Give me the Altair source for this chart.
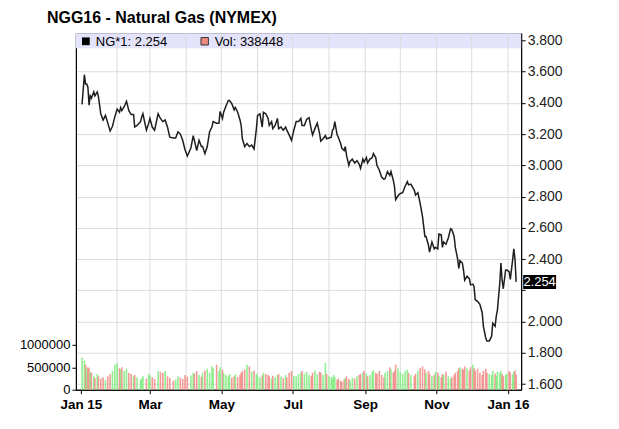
import altair as alt
import pandas as pd

# ---- data ----
day_offsets = [1, 3, 4, 5, 6, 7, 8, 9, 11, 12, 14, 15, 17, 19, 21, 23, 25, 27, 29, 31,
               33, 34, 35, 37, 39, 41, 43, 45, 46, 48, 51, 52, 53, 56, 58, 59, 61, 63, 66, 68,
               70, 72, 74, 76, 79, 81, 83, 85, 87, 89, 91, 94, 96, 97, 99, 101, 103, 104, 106, 108,
               110, 112, 113, 116, 118, 119, 121, 122, 124, 126, 127, 129, 131, 132, 134, 136, 137, 138, 140, 142,
               144, 146, 148, 150, 151, 153, 155, 156, 158, 160, 161, 163, 164, 166, 168, 169, 171, 173, 175, 176,
               178, 180, 182, 184, 186, 188, 189, 191, 193, 195, 197, 198, 200, 202, 204, 205, 207, 209, 210, 212,
               214, 215, 216, 217, 219, 220, 222, 223, 225, 226, 227, 229, 230, 232, 234, 236, 238, 239, 241, 242,
               244, 245, 247, 249, 250, 252, 253, 255, 257, 259, 260, 262, 264, 265, 267, 268, 269, 271, 273, 275,
               277, 279, 280, 282, 285, 286, 288, 290, 292, 294, 295, 297, 298, 300, 302, 303, 305, 306, 308, 309,
               310, 312, 314, 316, 317, 319, 320, 322, 323, 324, 326, 327, 328, 330, 332, 333, 335, 336, 337, 339,
               341, 343, 344, 346, 347, 349, 351, 352, 354, 355, 356, 358, 359, 360, 361, 363, 364, 366, 367, 369,
               370, 371, 372]

prices = [3.39, 3.58, 3.52, 3.52, 3.50, 3.385, 3.445, 3.43, 3.47, 3.445, 3.47, 3.44, 3.33, 3.29, 3.32, 3.27, 3.22, 3.25, 3.31, 3.36,
          3.34, 3.37, 3.35, 3.375, 3.41, 3.35, 3.325, 3.325, 3.245, 3.255, 3.28, 3.31, 3.33, 3.225, 3.27, 3.30, 3.245, 3.225, 3.33, 3.30,
          3.28, 3.29, 3.245, 3.18, 3.175, 3.175, 3.215, 3.20, 3.16, 3.10, 3.06, 3.11, 3.19, 3.16, 3.095, 3.16, 3.12, 3.12, 3.075, 3.12,
          3.215, 3.245, 3.28, 3.27, 3.27, 3.345, 3.30, 3.34, 3.38, 3.415, 3.415, 3.395, 3.355, 3.37, 3.34, 3.29, 3.255, 3.17, 3.12, 3.14,
          3.12, 3.13, 3.105, 3.235, 3.32, 3.33, 3.245, 3.34, 3.33, 3.30, 3.255, 3.28, 3.235, 3.255, 3.30, 3.235, 3.245, 3.225, 3.245, 3.225,
          3.195, 3.16, 3.225, 3.28, 3.28, 3.30, 3.255, 3.255, 3.295, 3.305, 3.225, 3.195, 3.235, 3.27, 3.205, 3.155, 3.17, 3.19, 3.17, 3.175,
          3.18, 3.225, 3.235, 3.28, 3.195, 3.18, 3.14, 3.11, 3.095, 3.12, 3.065, 3.00, 3.025, 3.04, 3.015, 3.03, 3.005, 2.98, 3.04, 3.02,
          3.05, 3.015, 3.04, 3.05, 3.075, 3.05, 3.00, 2.97, 2.925, 2.91, 2.915, 2.96, 2.935, 2.96, 2.905, 2.865, 2.78, 2.805, 2.82, 2.825,
          2.865, 2.895, 2.875, 2.88, 2.84, 2.81, 2.825, 2.755, 2.67, 2.545, 2.545, 2.49, 2.445, 2.51, 2.465, 2.475, 2.465, 2.56, 2.555, 2.475,
          2.51, 2.495, 2.535, 2.595, 2.59, 2.545, 2.475, 2.40, 2.34, 2.39, 2.375, 2.33, 2.265, 2.29, 2.275, 2.235, 2.24, 2.225, 2.14, 2.13,
          2.11, 2.055, 1.97, 1.895, 1.875, 1.875, 1.905, 1.99, 1.97, 2.035, 2.075, 2.245, 2.375, 2.265, 2.21, 2.33, 2.33, 2.32, 2.27, 2.395,
          2.465, 2.40, 2.254]

volumes_k = [720, 650, 560, 470, 500, 480, 400, 380,
             300, 260, 350, 300, 250, 280, 220, 300, 350, 420, 560, 600,
             480, 450, 500, 420, 470, 380, 350, 300, 330, 280,
             220, 260, 300, 250, 350, 320, 280, 240, 420, 400,
             380, 420, 300, 260, 200, 230, 300, 270, 240, 330, 290,
             320, 380, 360, 420, 330, 290, 380, 430, 470, 380, 520,
             480, 560, 420, 500, 450, 380, 330, 300, 350, 270, 300, 350, 280,
             330, 380, 420, 450, 560, 520, 400, 430, 360, 300, 280, 320, 380, 350, 330,
             300, 260, 310, 280, 330, 350, 290, 260, 330, 280, 380, 420, 310, 300, 350,
             380, 420, 360, 400, 330, 310, 380, 430, 350, 400, 380, 330, 600, 350, 300,
             280, 250, 330, 280, 220, 250, 200, 180, 230, 260, 300, 240, 200, 270, 250,
             300, 330, 350, 380, 420, 360, 300, 330, 400, 430, 380, 350, 420, 330, 280,
             380, 420, 500, 450, 380, 420, 560, 480, 400, 350, 420, 450, 380, 330, 300,
             350, 420, 480, 520, 450, 380, 420, 360, 300, 330, 400, 380, 310, 280, 350,
             330, 400, 300, 250, 280, 330, 380, 420, 480, 500, 470, 450, 520, 480, 430,
             500, 560, 480, 420, 470, 380, 330, 420, 470, 380, 350, 330, 420, 360, 310,
             400, 380, 420, 350, 300, 330, 360, 420, 380, 340, 400, 430, 338.448]

title_text = "NGG16 - Natural Gas (NYMEX)"
legend_price = "NG*1: 2.254"
legend_vol = "Vol: 338448"
last_price = 2.254
price_ticks = [1.6, 1.8, 2.0, 2.2, 2.4, 2.6, 2.8, 3.0, 3.2, 3.4, 3.6, 3.8]
vol_ticks = [0, 500000, 1000000]
label_months = ["2015-01-01", "2015-03-01", "2015-05-01", "2015-07-01",
                "2015-09-01", "2015-11-01", "2016-01-01"]
grid_months = ["2015-02-01", "2015-03-01", "2015-04-01", "2015-05-01", "2015-06-01",
               "2015-07-01", "2015-08-01", "2015-09-01", "2015-10-01", "2015-11-01",
               "2015-12-01", "2016-01-01"]

# ---- tables ----
base = pd.Timestamp("2015-01-01")
dates = base + pd.to_timedelta(day_offsets, unit="D")
direction = ["up"] + ["up" if prices[i] >= prices[i - 1] else "down" for i in range(1, len(prices))]
df = pd.DataFrame({
    "date": dates,
    "price": prices,
    "volume": [v * 1000 for v in volumes_k],
    "dir": direction,
})
grid_df = pd.DataFrame({"date": pd.to_datetime(grid_months)})
last_df = pd.DataFrame({"price": [last_price], "label": [f"{last_price:.3f}"]})

W, H = 446, 357
FONT = "Liberation Sans"
x_dom = [pd.Timestamp("2015-01-01").isoformat(), pd.Timestamp("2016-01-08").isoformat()]
x_scale = alt.Scale(domain=x_dom, nice=False)
p_scale = alt.Scale(domain=[1.564, 3.845], nice=False, zero=False)
v_scale = alt.Scale(domain=[0, 7970000], nice=False)

x_axis = alt.Axis(
    values=[alt.DateTime(year=int(s[:4]), month=int(s[5:7]), date=1) for s in label_months],
    labelExpr="month(datum.value) == 0 ? 'Jan ' + timeFormat(datum.value, '%y') : timeFormat(datum.value, '%b')",
    grid=False, domainColor="black", tickColor="black", tickSize=4,
    labelFont=FONT, labelFontSize=13.5, labelFontWeight="bold", labelColor="black",
    labelPadding=4, title=None, labelFlush=False,
)

band = alt.Chart(last_df).mark_rect(color="#E3E3FB").encode(
    x=alt.value(0), x2=alt.value(W), y=alt.value(0), y2=alt.value(15)
)

vgrid = alt.Chart(grid_df).mark_rule(color="#DCDCDC", strokeWidth=1).encode(
    x=alt.X("date:T", scale=x_scale, axis=x_axis)
)

bars = alt.Chart(df).mark_bar(size=1.6, opacity=0.85).encode(
    x=alt.X("date:T", scale=x_scale, axis=x_axis),
    y=alt.Y("volume:Q", scale=v_scale,
            axis=alt.Axis(orient="left", values=vol_ticks, format="d", grid=False,
                          domainColor="black", tickColor="black", tickSize=4,
                          labelFont=FONT, labelFontSize=13, labelColor="black",
                          labelPadding=2, title=None)),
    color=alt.Color("dir:N", scale=alt.Scale(domain=["up", "down"], range=["#7EEB7E", "#F08882"]),
                    legend=None),
)

line = alt.Chart(df).mark_line(color="#1E1E1E", strokeWidth=1.5).encode(
    x=alt.X("date:T", scale=x_scale, axis=x_axis),
    y=alt.Y("price:Q", scale=p_scale,
            axis=alt.Axis(orient="right", values=price_ticks, grid=True,
                          labelExpr="datum.value == 2.2 ? '' : format(datum.value, '.3f')",
                          gridColor="#DCDCDC", domainColor="black", tickColor="black", tickSize=4,
                          labelFont=FONT, labelFontSize=14, labelColor="#222222",
                          labelPadding=2, title=None)),
)

last_box = alt.Chart(last_df).mark_tick(orient="horizontal", color="black", size=33,
                                        thickness=14, opacity=1).encode(
    x=alt.value(W + 18.5),
    y=alt.Y("price:Q", scale=p_scale, axis=None),
)
last_txt = alt.Chart(last_df).mark_text(color="white", font=FONT, fontSize=13,
                                        align="center", baseline="middle").encode(
    x=alt.value(W + 18.5),
    y=alt.Y("price:Q", scale=p_scale, axis=None),
    text="label:N",
)

title = alt.Chart(last_df).mark_text(text=title_text, font=FONT, fontSize=16, fontWeight="bold",
                                     align="left", baseline="middle", color="black").encode(
    x=alt.value(-29), y=alt.value(-15)
)
sq_price = alt.Chart(last_df).mark_square(size=60, color="black", filled=True, opacity=1).encode(
    x=alt.value(10), y=alt.value(8)
)
txt_price = alt.Chart(last_df).mark_text(text=legend_price, font=FONT, fontSize=13,
                                         align="left", baseline="middle", color="black").encode(
    x=alt.value(20), y=alt.value(8.5)
)
sq_vol = alt.Chart(last_df).mark_square(size=55, fill="#F08882", stroke="#333333",
                                        strokeWidth=1, filled=True, opacity=1).encode(
    x=alt.value(129), y=alt.value(8)
)
txt_vol = alt.Chart(last_df).mark_text(text=legend_vol, font=FONT, fontSize=13,
                                       align="left", baseline="middle", color="black").encode(
    x=alt.value(139), y=alt.value(8.5)
)

chart = alt.layer(
    band, vgrid, bars, line, last_box, last_txt, title, sq_price, txt_price, sq_vol, txt_vol
).resolve_scale(
    y="independent"
).properties(
    width=W, height=H,
    autosize=alt.AutoSizeParams(type="none"),
    padding={"left": 68, "top": 25, "right": 90, "bottom": 35},
    background="white",
).configure_view(
    stroke="black", strokeWidth=1
)

chart.save("out.html", embed_options={"renderer": "svg", "actions": False})
